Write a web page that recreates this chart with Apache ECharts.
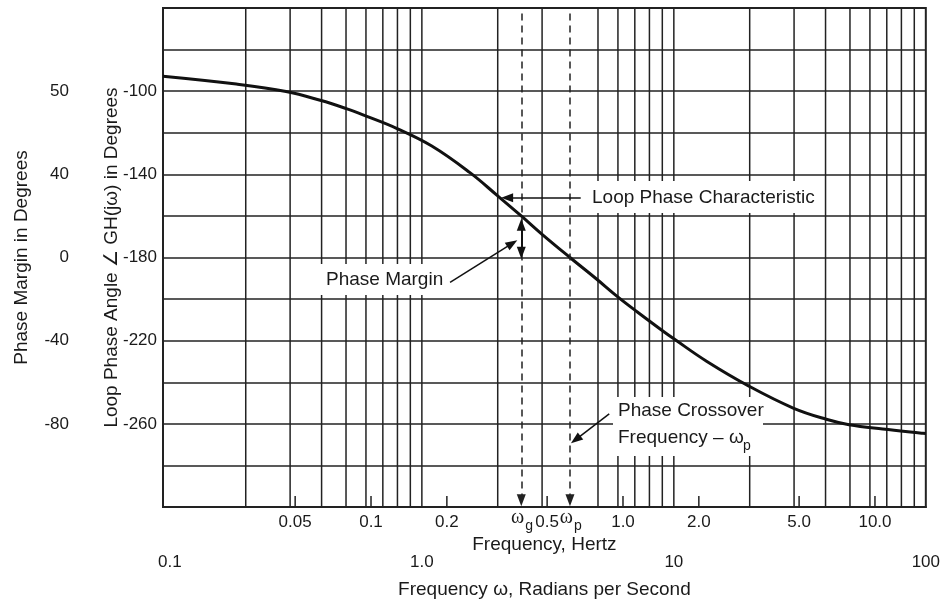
<!DOCTYPE html>
<html>
<head>
<meta charset="utf-8">
<script src="https://cdn.jsdelivr.net/npm/echarts@6/dist/echarts.min.js"></script>
<style>html,body{margin:0;padding:0;background:#fff;}#c{width:943px;height:606px;}</style>
</head>
<body>
<div id="c"></div>
<script>
// ---- data ----
const curveRad = [0.0939, 0.1835, 0.289, 0.395, 0.501, 0.601, 0.797, 1.095, 1.552, 1.989, 2.48, 2.976, 3.87, 4.906, 5.973, 7.165, 9.13, 10.0, 13.53, 19.95, 29.76, 40.27, 49.6, 67.4, 96.3, 100];
const curveDeg = [-92.8, -96.6, -100.2, -104.4, -108.4, -112.0, -118.0, -126.4, -139.2, -150.1, -160.0, -168.5, -180.0, -190.1, -198.8, -206.2, -215.7, -219.1, -230.0, -242.0, -252.4, -257.8, -260.4, -262.5, -264.5, -264.7];
const gridRad = [0.2, 0.3, 0.4, 0.5, 0.6, 0.7, 0.8, 0.9, 1, 2, 3, 5, 6, 7, 8, 9, 10, 20, 30, 40, 50, 60, 70, 80, 90];
const radTicks = [0.1, 1, 10, 100];
const radLabels = ['0.1', '1.0', '10', '100'];
const hzTicks = [0.05, 0.1, 0.2, 0.5, 1, 2, 5, 10];
const hzLabels = ['0.05', '0.1', '0.2', '0.5', '1.0', '2.0', '5.0', '10.0'];
const loopTicks = [-100, -140, -180, -220, -260];
const pmLabels = ['50', '40', '0', '-40', '-80'];
const omegaVals = [2.48, 3.87];      // ωg, ωp in rad/s
const omegaSubs = ['g', 'p'];
const phaseAtOmegaG = -160;
const crossoverPhase = -180;
const radMin = 0.0939, radMax = 100;
const degMin = -300, degMax = -60;

const FF = "'Liberation Sans', Arial, sans-serif";
const INK = '#1a1a1a';
const LINE = '#222';
const TICK_FS = 17, TITLE_FS = 19;

function lookup(vals, labels, v) {
  for (let i = 0; i < vals.length; i++) {
    if (Math.abs(Math.log10(v) - Math.log10(vals[i])) < 1e-6) return labels[i];
  }
  return '';
}

const chart = echarts.init(document.getElementById('c'), null, {renderer: 'canvas'});

const option = {
  animation: false,
  backgroundColor: '#fff',
  grid: {left: 163, right: 13, top: 8, bottom: 99, show: true, borderColor: LINE, borderWidth: 2, backgroundColor: 'transparent'},
  xAxis: [{
    type: 'log', logBase: 10, min: radMin, max: radMax, position: 'bottom',
    axisLine: {show: true, lineStyle: {color: LINE, width: 2}},
    axisTick: {show: false}, splitLine: {show: false}, minorSplitLine: {show: false},
    axisLabel: {showMinLabel: false, showMaxLabel: true, margin: 47, fontFamily: FF, fontSize: TICK_FS, color: INK,
      formatter: v => lookup(radTicks, radLabels, v)},
    name: 'Frequency ω, Radians per Second', nameLocation: 'middle', nameGap: 73, nameMoveOverlap: false,
    nameTextStyle: {fontFamily: FF, fontSize: TITLE_FS, color: INK}
  }, {
    type: 'log', logBase: 10, min: radMin / (2 * Math.PI), max: radMax / (2 * Math.PI), position: 'bottom',
    axisLine: {show: false}, axisTick: {show: false}, axisLabel: {show: false}, splitLine: {show: false},
    name: 'Frequency, Hertz', nameLocation: 'middle', nameGap: 28, nameMoveOverlap: false,
    nameTextStyle: {fontFamily: FF, fontSize: TITLE_FS, color: INK}
  }],
  yAxis: [{
    type: 'value', min: degMin, max: degMax, interval: 20, position: 'left',
    axisLine: {show: true, lineStyle: {color: LINE, width: 2}},
    axisTick: {show: false},
    axisLabel: {margin: 6, fontFamily: FF, fontSize: TICK_FS, color: INK,
      formatter: v => loopTicks.indexOf(v) >= 0 ? String(v) : ''},
    splitLine: {show: true, lineStyle: {color: LINE, width: 1.5}},
    name: 'Loop Phase Angle ∠ GH(jω) in Degrees', nameLocation: 'middle', nameGap: 42, nameMoveOverlap: false,
    nameTextStyle: {fontFamily: FF, fontSize: TITLE_FS, color: INK}
  }, {
    type: 'value', min: degMin, max: degMax, interval: 20, position: 'left', offset: 87,
    axisLine: {show: false}, axisTick: {show: false}, splitLine: {show: false},
    axisLabel: {margin: 7, fontFamily: FF, fontSize: TICK_FS, color: INK,
      formatter: v => { const i = loopTicks.indexOf(v); return i >= 0 ? pmLabels[i] : ''; }},
    name: 'Phase Margin in Degrees', nameLocation: 'middle', nameGap: 45, nameMoveOverlap: false,
    nameTextStyle: {fontFamily: FF, fontSize: TITLE_FS, color: INK}
  }],
  graphic: [
    {type: 'rect', z: 50, shape: {x: 588, y: 181, width: 231, height: 32}, style: {fill: '#fff'}},
    {type: 'text', z: 51, x: 592, y: 198, style: {text: 'Loop Phase Characteristic', font: TITLE_FS + 'px ' + FF, fill: INK, verticalAlign: 'middle'}},
    {type: 'rect', z: 50, shape: {x: 317, y: 264, width: 131, height: 31}, style: {fill: '#fff'}},
    {type: 'text', z: 51, x: 326, y: 280, style: {text: 'Phase Margin', font: TITLE_FS + 'px ' + FF, fill: INK, verticalAlign: 'middle'}},
    {type: 'rect', z: 50, shape: {x: 613, y: 397, width: 150, height: 59}, style: {fill: '#fff'}},
    {type: 'text', z: 51, x: 618, y: 411, style: {text: 'Phase Crossover', font: TITLE_FS + 'px ' + FF, fill: INK, verticalAlign: 'middle'}},
    {type: 'text', z: 51, x: 618, y: 438, style: {text: 'Frequency – ω', font: TITLE_FS + 'px ' + FF, fill: INK, verticalAlign: 'middle'}},
    {type: 'text', z: 51, x: 743, y: 446, style: {text: 'p', font: '14px ' + FF, fill: INK, verticalAlign: 'middle'}}
  ],
  series: [
    { // vertical grid lines
      type: 'custom', xAxisIndex: 0, yAxisIndex: 0, z: 1, silent: true, clip: false,
      data: gridRad.map(v => [v, crossoverPhase]),
      renderItem: (params, api) => {
        const a = api.coord([api.value(0), degMin]);
        const b = api.coord([api.value(0), degMax]);
        return {type: 'line', shape: {x1: a[0], y1: a[1], x2: b[0], y2: b[1]}, style: {stroke: LINE, lineWidth: 1.5}};
      }
    },
    { // Hertz ticks and labels
      type: 'custom', xAxisIndex: 0, yAxisIndex: 0, z: 3, silent: true, clip: false,
      data: hzTicks.map((h, i) => [h * 2 * Math.PI, degMin, i]),
      renderItem: (params, api) => {
        const p = api.coord([api.value(0), degMin]);
        const i = api.value(2);
        return {type: 'group', children: [
          {type: 'line', shape: {x1: p[0], y1: p[1], x2: p[0], y2: p[1] - 11}, style: {stroke: LINE, lineWidth: 1.5}},
          {type: 'text', x: p[0], y: p[1] + 7, style: {text: hzLabels[i], font: TICK_FS + 'px ' + FF, fill: INK, align: 'center', verticalAlign: 'top'}}
        ]};
      }
    },
    { // omega labels under dashed lines
      type: 'custom', xAxisIndex: 0, yAxisIndex: 0, z: 3, silent: true, clip: false,
      data: omegaVals.map((w, i) => [w, degMin, i]),
      renderItem: (params, api) => {
        const p = api.coord([api.value(0), degMin]);
        const i = api.value(2);
        return {type: 'group', children: [
          {type: 'text', x: p[0] + 3, y: p[1] + 11, style: {text: 'ω', font: '20px "Liberation Serif", serif', fill: INK, align: 'right', verticalAlign: 'middle'}},
          {type: 'text', x: p[0] + 4, y: p[1] + 19, style: {text: omegaSubs[i], font: '14px ' + FF, fill: INK, align: 'left', verticalAlign: 'middle'}}
        ]};
      }
    },
    { // loop phase curve
      type: 'line', xAxisIndex: 0, yAxisIndex: 0, z: 10, silent: true,
      data: curveRad.map((r, i) => [r, curveDeg[i]]),
      smooth: 0.4, showSymbol: false,
      lineStyle: {color: '#111', width: 3},
      markLine: {
        silent: true, z: 60, animation: false,
        label: {show: false}, emphasis: {disabled: true},
        data: [
          // dashed lines at ωg and ωp
          [{coord: [omegaVals[0], -62.6], symbol: 'none', lineStyle: {type: [7, 5], width: 1.5, color: LINE}},
           {coord: [omegaVals[0], -296.8], symbol: 'triangle', symbolSize: [9, 12]}],
          [{coord: [omegaVals[1], -62.6], symbol: 'none', lineStyle: {type: [7, 5], width: 1.5, color: LINE}},
           {coord: [omegaVals[1], -296.8], symbol: 'triangle', symbolSize: [9, 12]}],
          // phase margin double arrow
          [{coord: [omegaVals[0], phaseAtOmegaG - 4.3], symbol: 'triangle', symbolSize: [9, 12], lineStyle: {type: 'solid', width: 2, color: '#111'}},
           {coord: [omegaVals[0], crossoverPhase + 2.3], symbol: 'triangle', symbolSize: [9, 12]}],
          // Loop Phase Characteristic pointer
          [{coord: [4.27, -151.3], symbol: 'none', lineStyle: {type: 'solid', width: 1.5, color: '#111'}},
           {coord: [2.18, -151.3], symbol: 'triangle', symbolSize: [9, 12]}],
          // Phase Margin pointer
          [{coord: [1.294, -192], symbol: 'none', lineStyle: {type: 'solid', width: 1.5, color: '#111'}},
           {coord: [2.284, -173.2], symbol: 'triangle', symbolSize: [9, 12]}],
          // Phase Crossover pointer
          [{coord: [5.54, -255.2], symbol: 'none', lineStyle: {type: 'solid', width: 1.5, color: '#111'}},
           {coord: [4.08, -267.6], symbol: 'triangle', symbolSize: [9, 12]}]
        ],
        itemStyle: {color: '#111'},
        lineStyle: {color: '#111'}
      }
    }
  ]
};
chart.setOption(option);
</script>
</body>
</html>
